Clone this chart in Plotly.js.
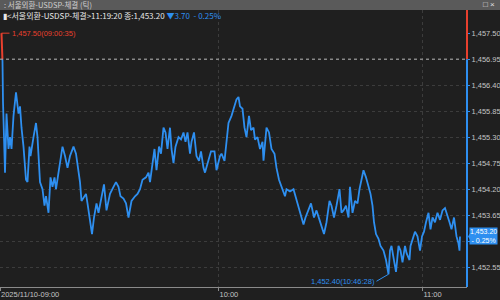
<!DOCTYPE html>
<html>
<head>
<meta charset="utf-8">
<script src="https://cdn.plot.ly/plotly-3.0.1.min.js"></script>
<style>
html,body{margin:0;padding:0;background:#1f1f1f;overflow:hidden;}
#chart{width:500px;height:300px;}
</style>
</head>
<body>
<div id="chart"></div>
<script>
// tick sequence number (trade index) of each sampled trade
const tickSeq = [3,5,6,8,10,13,15,17,20,23,27,32,37,40,43,47,52,55,59,61,67,72,75,80,85,89,92,97,101,105,109,112,117,125,130,135,140,147,152,160,163,172,175,180,184,188,193,197,203,208,213,220,227,232,237,241,247,252,257,263,270,275,280,285,292,297,300,305,309,313,318,322,327,331,335,340,343,347,351,357,362,367,371,375,380,383,388,393,398,402,407,410,417,422,429,433,440,443,449,453,457,463,469,473,477,480,485,489,493,498,502,507,510,515,520,525,527,533,538,543,549,553,558,563,570,573,580,587,591,597,602,607,611,617,622,628,633,639,643,648,653,659,663,668,673,679,683,687,692,697,700,705,710,715,719,723,727,732,737,741,745,748,752,757,761,767,772,775,777,780,783,787,792,797,801,805,810,813,819,821,825,830,835,840,844,848,852,857,861,865,870,875,880,885,890,895,899,903,908,913,917,919,920];
// trade price
const price = [1457.50,1456.90,1456.05,1455.40,1454.55,1455.80,1455.40,1455.05,1455.30,1455.05,1455.75,1456.25,1455.80,1455.95,1455.50,1455.10,1454.40,1454.35,1455.10,1454.90,1455.30,1455.60,1455.30,1454.35,1454.20,1453.85,1454.05,1453.70,1454.45,1454.25,1454.45,1454.20,1454.55,1455.10,1454.90,1454.65,1454.90,1455.10,1454.95,1454.35,1453.95,1454.10,1453.90,1453.55,1453.25,1453.60,1453.90,1453.70,1454.05,1454.30,1453.75,1454.10,1454.25,1454.35,1454.25,1454.05,1454.00,1453.90,1453.60,1453.95,1454.05,1454.10,1454.20,1454.40,1454.45,1454.55,1454.35,1454.75,1455.05,1454.60,1455.10,1454.95,1455.50,1455.40,1455.05,1455.50,1455.05,1454.75,1455.10,1455.30,1455.25,1455.40,1455.20,1455.40,1454.95,1455.20,1455.40,1454.90,1454.80,1455.00,1454.65,1454.55,1454.80,1455.00,1455.00,1454.60,1454.90,1454.95,1454.80,1455.25,1455.60,1455.75,1455.95,1456.10,1456.15,1455.95,1455.90,1455.50,1455.30,1455.75,1455.45,1455.50,1455.25,1455.30,1455.05,1455.20,1454.80,1455.50,1455.40,1455.05,1454.95,1454.65,1454.40,1454.25,1454.05,1454.20,1454.15,1454.20,1454.05,1453.85,1453.65,1453.45,1453.60,1453.75,1453.90,1453.60,1453.75,1453.55,1453.40,1453.25,1453.50,1453.95,1453.85,1453.60,1453.85,1454.20,1453.70,1453.75,1453.85,1453.60,1454.25,1453.70,1453.95,1453.90,1454.20,1454.40,1454.60,1454.45,1454.25,1454.10,1453.85,1453.50,1453.25,1453.15,1453.00,1452.90,1452.70,1452.50,1452.40,1452.90,1453.00,1452.75,1452.45,1453.00,1452.90,1452.65,1453.00,1452.85,1452.70,1453.00,1453.15,1453.30,1453.20,1452.90,1453.20,1453.30,1453.50,1453.70,1453.35,1453.60,1453.50,1453.70,1453.55,1453.75,1453.80,1453.60,1453.50,1453.35,1453.60,1453.20,1453.05,1452.90,1453.20];

const refPrice = 1456.95;               // previous close (reference line)
const highPrice = 1457.50, highTime = "09:00:35";
const lowPrice = 1452.40, lowTime = "10:46:28";
const lastPrice = 1453.20, lastTime = "11:19:20";
const change = "▼3.70", changePct = "- 0.25%";

const xTickVals = [0, 437, 845];
const xTickText = ["2025/11/10-09:00", "10:00", "11:00"];
const yTickVals = [1452.55,1453.10,1453.65,1454.20,1454.75,1455.30,1455.85,1456.40,1456.95,1457.50];

const yMin = 1452.13, yMax = 1457.99, xMax = 934;
const BLUE = "#2e8ff0", RED = "#e8402e", BG = "#1f1f1f";
const FONT = "Liberation Sans, Arial, sans-serif";
const KFONT = "Noto Sans CJK KR, sans-serif";

const H = 277, B = 287;   // plot height and bottom pixel
const py = p => (B - p) / H;   // pixel row -> paper y
const splitFrac = (refPrice - yMin) / (yMax - yMin);

const fmt = v => v.toLocaleString("en-US", {minimumFractionDigits: 2, maximumFractionDigits: 2});
const iLow = price.indexOf(lowPrice);
// tick labels hidden behind the last-price box
const yTickText = yTickVals.map(v => Math.abs(v - lastPrice) < 0.3 ? "" : fmt(v));

const traces = [
  {x: tickSeq, y: price, type: "scatter", mode: "lines",
   line: {color: BLUE, width: 1.8}, hoverinfo: "skip", xaxis: "x", yaxis: "y"},
  {x: tickSeq, y: price, type: "scatter", mode: "lines",
   line: {color: RED, width: 2}, hoverinfo: "skip", xaxis: "x", yaxis: "y2"}
];

const dpx = 1 / 467;
const layout = {
  width: 500, height: 300,
  margin: {l: 0, r: 33, t: 10, b: 13},
  paper_bgcolor: BG, plot_bgcolor: BG,
  showlegend: false,
  xaxis: {
    range: [0, xMax], tickvals: xTickVals, ticktext: xTickText,
    ticklabelposition: "outside right",
    ticks: "outside", ticklen: 3, tickcolor: "#8a8a8a",
    tickfont: {family: FONT, size: 7.5, color: "#c4c4c4"},
    showline: true, linecolor: "#8a8a8a", linewidth: 1,
    showgrid: true, gridcolor: "#3c3c3c", griddash: "dot", gridwidth: 1,
    zeroline: false, fixedrange: true
  },
  yaxis: {
    range: [yMin, yMax], side: "right", tickvals: yTickVals, ticktext: yTickText,
    ticks: "outside", ticklen: 2, tickcolor: BLUE,
    tickfont: {family: FONT, size: 7.5, color: "#c4c4c4"},
    showline: false, showgrid: true, gridcolor: "#3c3c3c", griddash: "dot",
    zeroline: false, fixedrange: true
  },
  yaxis2: {
    domain: [splitFrac, 1], range: [refPrice, yMax], anchor: "x",
    showgrid: false, showticklabels: false, zeroline: false, showline: false,
    ticks: "", fixedrange: true
  },
  shapes: [
    {type: "rect", xref: "paper", yref: "paper", x0: 0, x1: 500/467, y0: 1, y1: 10/H + 1,
     fillcolor: "#5a5a5a", line: {width: 0}},
    {type: "line", xref: "paper", yref: "y", x0: 0, x1: 1, y0: refPrice, y1: refPrice,
     line: {color: "#b4b4b4", width: 1, dash: "dot"}},
    {type: "line", xref: "paper", yref: "y", x0: 1, x1: 1, y0: refPrice, y1: yMax,
     line: {color: RED, width: 2}},
    {type: "line", xref: "paper", yref: "y", x0: 1, x1: 1, y0: yMin, y1: refPrice,
     line: {color: BLUE, width: 2}},
    {type: "path", xref: "paper", yref: "y", fillcolor: BLUE, line: {width: 0},
     path: "M " + (1 + dpx) + " " + lastPrice + " L " + (1 + 4 * dpx) + " " + (lastPrice + 0.1) +
           " L " + (1 + 4 * dpx) + " " + (lastPrice - 0.1) + " Z"}
  ],
  annotations: [
    {xref: "paper", yref: "paper", x: 0.004, y: py(5), xanchor: "left", yanchor: "middle",
     text: ": 서울외환-USDSP-체결 (틱)", showarrow: false,
     font: {family: KFONT, size: 7.5, color: "#cfcfcf"}},
    {xref: "paper", yref: "paper", x: 497/467, y: py(5), xanchor: "right", yanchor: "middle",
     text: "□ ×", showarrow: false, font: {family: FONT, size: 8, color: "#e0e0e0"}},
    {xref: "paper", yref: "paper", x: 0.002, y: py(15), xanchor: "left", yanchor: "middle",
     text: "▮<서울외환-USDSP-체결>" + lastTime + " 종:" + fmt(lastPrice) +
           " <span style='color:" + BLUE + "'>" + change + "  " + changePct + "</span>",
     showarrow: false, font: {family: KFONT, size: 8, color: "#e6e6e6"}},
    {x: tickSeq[0], y: highPrice, xref: "x", yref: "y", xanchor: "left", yanchor: "middle",
     text: fmt(highPrice) + "(" + highTime + ")", showarrow: true, arrowhead: 0,
     arrowwidth: 1, arrowcolor: RED, ax: 8, ay: 0,
     font: {family: FONT, size: 7.5, color: RED}},
    {x: tickSeq[iLow], y: lowPrice, xref: "x", yref: "y", xanchor: "right", yanchor: "middle",
     text: fmt(lowPrice) + "(" + lowTime + ")", showarrow: true, arrowhead: 0,
     arrowwidth: 1, arrowcolor: BLUE, ax: -12, ay: 7,
     font: {family: FONT, size: 7.5, color: BLUE}},
    {xref: "paper", yref: "y", x: 1, y: lastPrice, xanchor: "left", yanchor: "middle",
     xshift: 2, text: fmt(lastPrice) + "<br>" + changePct, showarrow: false,
     align: "center", bgcolor: BLUE, borderpad: 0,
     font: {family: FONT, size: 7, color: "#ffffff"}}
  ]
};

Plotly.newPlot("chart", traces, layout, {staticPlot: true, displayModeBar: false});
</script>
</body>
</html>
